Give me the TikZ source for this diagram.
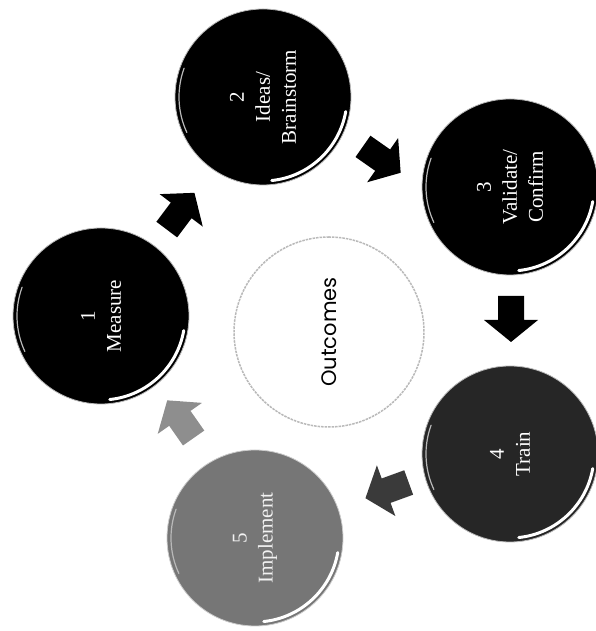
\documentclass[tikz,border=0pt]{standalone}
\usepackage{fontspec}
\setmainfont{Liberation Serif}
\newfontfamily\outfont{Poppins}
\usetikzlibrary{calc}
\definecolor{darkfill}{HTML}{262626}
\definecolor{midfill}{HTML}{767676}
\definecolor{arrowdark}{HTML}{3A3A3A}
\definecolor{arrowlight}{HTML}{8E8E8E}
\begin{document}
\begin{tikzpicture}[x=1pt,y=1pt,
  stage/.style={circle, minimum size=176pt, inner sep=0pt, draw=gray!55, line width=0.8pt,
    text=white, align=center, rotate=90, font=\fontsize{21}{26}\selectfont},
  gloss/.style={white, line width=3pt, line cap=round},
  rim/.style={gray!55, line width=1.2pt, line cap=round},
  blockarrow/.pic={\fill (-22,-13) -- (2,-13) -- (2,-27) -- (24,0) -- (2,27) -- (2,13) -- (-22,13) -- cycle;}
]
\useasboundingbox (0,0) rectangle (596,631);

% centre circle
\node[circle, minimum size=190pt, inner sep=0pt, draw=gray!55, dash pattern=on 2.5pt off 1pt,
  line width=1.5pt, fill=white, rotate=90, font=\outfont\fontsize{21}{24}\selectfont] (out) at (329,299) {Outcomes};

% stages
\node[stage, fill=black] (c1) at (101,315) {1\\Measure};
\node[stage, fill=black] (c2) at (263,534) {2\\Ideas/\\Brainstorm};
\node[stage, fill=black] (c3) at (510,444) {3\\Validate/\\Confirm};
\node[stage, fill=darkfill] (c4) at (510,177) {4\\Train};
\node[stage, fill=midfill, draw=gray!40, text=white!90!gray] (c5) at (255,93) {5\\Implement};

% glossy highlights
\foreach \c in {c1,c2,c3,c4,c5}{
  \draw[gloss] ($(\c)+(-84:84)$) arc[start angle=-84, end angle=-10, radius=84];
  \draw[rim] ($(\c)+(160:84)$) arc[start angle=160, end angle=205, radius=84];
}

% arrow positions
\coordinate (a12) at (180,419);
\coordinate (a23) at (381,472);
\coordinate (a34) at (511,313);
\coordinate (a45) at (388,141);
\coordinate (a51) at (181,211);

\pic[rotate=53, fill=black] at (a12) {blockarrow};
\pic[rotate=-35, fill=black] at (a23) {blockarrow};
\pic[rotate=-90, fill=black] at (a34) {blockarrow};
\pic[rotate=200, fill=arrowdark] at (a45) {blockarrow};
\pic[rotate=125, fill=arrowlight] at (a51) {blockarrow};
\end{tikzpicture}
\end{document}
